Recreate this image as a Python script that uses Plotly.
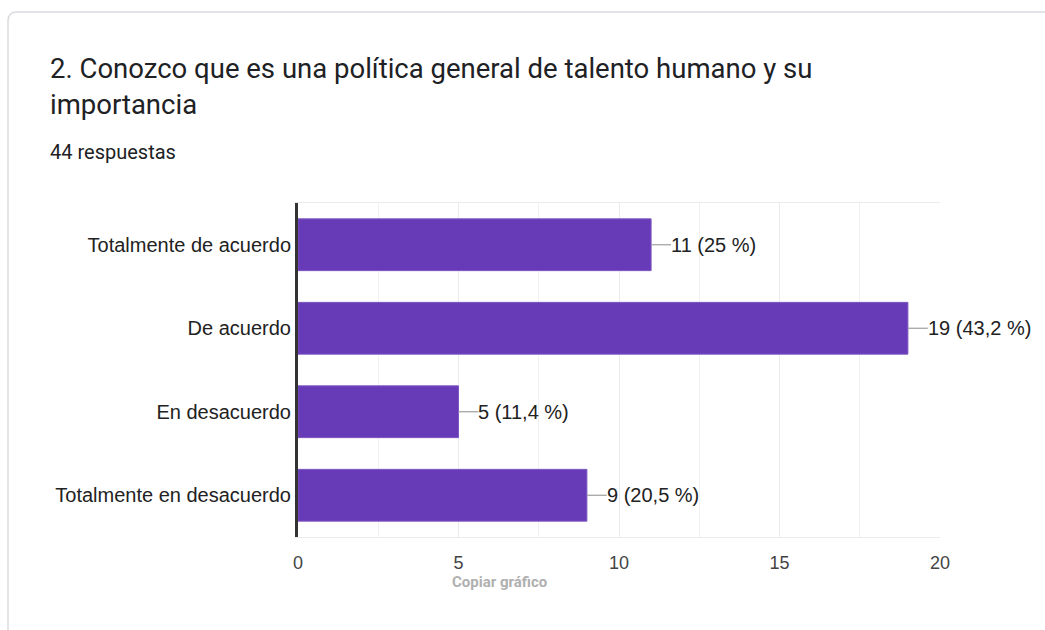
import plotly.graph_objects as go

categories = ["Totalmente de acuerdo", "De acuerdo", "En desacuerdo", "Totalmente en desacuerdo"]
counts = [11, 19, 5, 9]
percent_labels = ["25 %", "43,2 %", "11,4 %", "20,5 %"]
x_ticks = [0, 5, 10, 15, 20]

W, H = 1045, 630
L, R, T, B = 298, 105, 203, 93
PW, PH = W - L - R, H - T - B


def px(x):
    return (x - L) / PW


def py(y):
    return (H - B - y) / PH


LABEL_FONT = "Liberation Sans, Arial"
TITLE_FONT = "Roboto, Arial"

fig = go.Figure(go.Bar(
    y=categories, x=counts, orientation="h",
    marker=dict(color="#673ab7", line=dict(color="#7e57c2", width=1)),
    width=0.62, hoverinfo="skip",
))

# card outline with rounded top-left corner
r = 9
x0, y0 = 8, 12
x1, y1 = 1060, 650
path = (f"M {px(x0)},{py(y1)} L {px(x0)},{py(y0 + r)} "
        f"Q {px(x0)},{py(y0)} {px(x0 + r)},{py(y0)} L {px(x1)},{py(y0)}")
shapes = [dict(type="path", xref="paper", yref="paper", path=path,
               line=dict(color="#dadce0", width=1.5), layer="below")]

# leader lines and value labels
lead = 0.62
annotations = []
for cat, c, p in zip(categories, counts, percent_labels):
    shapes.append(dict(type="line", xref="x", yref="y", x0=c, x1=c + lead,
                       y0=cat, y1=cat, line=dict(color="#9e9e9e", width=1.2)))
    annotations.append(dict(x=c + lead, y=cat, xref="x", yref="y",
                            text=f"{c} ({p})", showarrow=False, xanchor="left",
                            xshift=-2, font=dict(family=LABEL_FONT, size=20, color="#222222")))

annotations += [
    dict(x=px(48), y=py(68), xref="paper", yref="paper", xanchor="left", yanchor="middle",
         text="2. Conozco que es una política general de talento humano y su",
         showarrow=False, font=dict(family=TITLE_FONT, size=27.5, color="#202124")),
    dict(x=px(48), y=py(104), xref="paper", yref="paper", xanchor="left", yanchor="middle",
         text="importancia", showarrow=False,
         font=dict(family=TITLE_FONT, size=27.5, color="#202124")),
    dict(x=px(48), y=py(152), xref="paper", yref="paper", xanchor="left", yanchor="middle",
         text="44 respuestas", showarrow=False,
         font=dict(family=TITLE_FONT, size=20, color="#202124")),
    dict(x=px(499), y=py(582), xref="paper", yref="paper", xanchor="center", yanchor="middle",
         text="<b>Copiar gráfico</b>", showarrow=False,
         font=dict(family=TITLE_FONT, size=15, color="#b0b0b0")),
]

fig.update_layout(
    width=W, height=H,
    margin=dict(l=L, r=R, t=T, b=B),
    paper_bgcolor="white", plot_bgcolor="white",
    showlegend=False, bargap=0.38,
    shapes=shapes, annotations=annotations,
    font=dict(family=LABEL_FONT, size=20, color="#222222"),
)
fig.update_xaxes(
    range=[0, 20], tickvals=x_ticks, ticktext=[str(v) for v in x_ticks],
    showgrid=True, gridcolor="#ebebeb", gridwidth=1,
    minor=dict(dtick=2.5, showgrid=True, gridcolor="#f1f1f1", gridwidth=1),
    showline=True, linecolor="#ebebeb", mirror=True, zeroline=False,
    tickfont=dict(size=18, color="#444444"), ticks="", ticklabelstandoff=9,
    fixedrange=True,
)
fig.update_yaxes(
    categoryorder="array", categoryarray=categories[::-1],
    showline=True, linecolor="#333333", linewidth=3,
    showgrid=False, ticks="", ticklabelstandoff=0,
    tickfont=dict(size=20, color="#222222"), fixedrange=True,
)

fig.write_html("out.html", config={"displayModeBar": False})
